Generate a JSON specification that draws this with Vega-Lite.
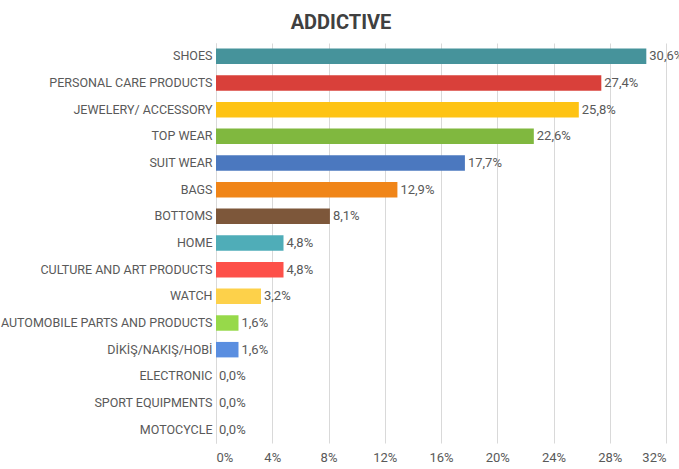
{
  "$schema": "https://vega.github.io/schema/vega-lite/v6.json",
  "width": 450,
  "height": 400,
  "autosize": {"type": "none"},
  "padding": {"left": 216, "top": 43, "right": 13, "bottom": 26},
  "config": {
    "locale": {"number": {"decimal": ",", "thousands": ".", "grouping": [3], "currency": ["", "€"]}},
    "view": {"stroke": null},
    "font": "Roboto"
  },
  "title": {
    "text": "ADDICTIVE",
    "fontSize": 20,
    "fontWeight": "bold",
    "color": "#404040",
    "font": "Roboto",
    "dx": -100,
    "offset": 10
  },
  "data": {
    "values": [
      {"category": "SHOES", "value": 0.306},
      {"category": "PERSONAL CARE PRODUCTS", "value": 0.274},
      {"category": "JEWELERY/ ACCESSORY", "value": 0.258},
      {"category": "TOP WEAR", "value": 0.226},
      {"category": "SUIT WEAR", "value": 0.177},
      {"category": "BAGS", "value": 0.129},
      {"category": "BOTTOMS", "value": 0.081},
      {"category": "HOME", "value": 0.048},
      {"category": "CULTURE AND ART PRODUCTS", "value": 0.048},
      {"category": "WATCH", "value": 0.032},
      {"category": "AUTOMOBILE PARTS AND PRODUCTS", "value": 0.016},
      {"category": "DİKİŞ/NAKIŞ/HOBİ", "value": 0.016},
      {"category": "ELECTRONIC", "value": 0.0},
      {"category": "SPORT EQUIPMENTS", "value": 0.0},
      {"category": "MOTOCYCLE", "value": 0.0}
    ]
  },
  "encoding": {
    "y": {
      "field": "category",
      "type": "nominal",
      "sort": null,
      "title": null,
      "scale": {"paddingInner": 0.42, "paddingOuter": 0.21},
      "axis": {
        "domain": true,
        "domainColor": "#d9d9d9",
        "ticks": false,
        "labelFontSize": 12.5,
        "labelColor": "#595959",
        "labelPadding": 4,
        "labelLimit": 300
      }
    },
    "x": {
      "field": "value",
      "type": "quantitative",
      "title": null,
      "scale": {"domain": [0, 0.32], "nice": false},
      "axis": {
        "format": ".0%",
        "values": [0, 0.04, 0.08, 0.12, 0.16, 0.2, 0.24, 0.28, 0.32],
        "domain": false,
        "ticks": false,
        "grid": true,
        "gridColor": "#d9d9d9",
        "labelFontSize": 13,
        "labelColor": "#595959",
        "labelPadding": 8
      }
    }
  },
  "layer": [
    {
      "mark": {"type": "bar"},
      "encoding": {
        "color": {
          "field": "category",
          "type": "nominal",
          "legend": null,
          "scale": {
            "domain": ["SHOES", "PERSONAL CARE PRODUCTS", "JEWELERY/ ACCESSORY", "TOP WEAR", "SUIT WEAR", "BAGS", "BOTTOMS", "HOME", "CULTURE AND ART PRODUCTS", "WATCH", "AUTOMOBILE PARTS AND PRODUCTS", "DİKİŞ/NAKIŞ/HOBİ", "ELECTRONIC", "SPORT EQUIPMENTS", "MOTOCYCLE"],
            "range": ["#46939b", "#d9403a", "#fec314", "#80b83f", "#4b78bf", "#f08518", "#7d573a", "#4fadb8", "#fd5049", "#fdd14a", "#97d94a", "#5a8ee0", "#999999", "#999999", "#999999"]
          }
        }
      }
    },
    {
      "mark": {"type": "text", "align": "left", "dx": 3, "fontSize": 13, "color": "#595959"},
      "encoding": {
        "text": {"field": "value", "type": "quantitative", "format": ".1%"}
      }
    }
  ]
}
